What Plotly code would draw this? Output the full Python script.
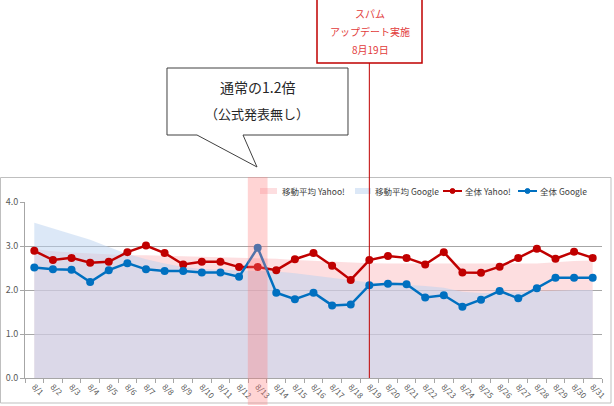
import plotly.graph_objects as go

# ---- data ----
days = [f"8/{d}" for d in range(1, 32)]
yahoo_all = [2.89, 2.68, 2.73, 2.62, 2.64, 2.86, 3.01, 2.84, 2.58, 2.64, 2.64, 2.52, 2.52, 2.45, 2.70,
             2.84, 2.55, 2.23, 2.68, 2.77, 2.73, 2.58, 2.86, 2.40, 2.39, 2.53, 2.73, 2.94, 2.71, 2.87, 2.73]
google_all = [2.51, 2.47, 2.46, 2.18, 2.45, 2.61, 2.47, 2.43, 2.43, 2.40, 2.40, 2.30, 2.96, 1.94, 1.79,
              1.94, 1.65, 1.67, 2.11, 2.14, 2.13, 1.83, 1.88, 1.62, 1.78, 1.98, 1.81, 2.04, 2.28, 2.28, 2.28]
yahoo_ma = [2.93, 2.88, 2.85, 2.83, 2.81, 2.79, 2.79, 2.78, 2.77, 2.76, 2.75, 2.74, 2.73, 2.71, 2.68,
            2.66, 2.64, 2.63, 2.61, 2.60, 2.60, 2.60, 2.60, 2.60, 2.59, 2.59, 2.59, 2.60, 2.63, 2.66, 2.67]
google_ma = [3.53, 3.40, 3.27, 3.14, 2.98, 2.82, 2.70, 2.60, 2.52, 2.48, 2.46, 2.45, 2.44, 2.42, 2.38,
             2.33, 2.28, 2.23, 2.17, 2.14, 2.12, 2.09, 2.05, 1.96, 1.93, 1.93, 1.95, 1.97, 1.98, 2.00, 2.00]
y_ticks = [0, 1, 2, 3, 4]
highlight_day = "8/13"
update_day = "8/19"

names = ["移動平均 Yahoo!", "移動平均 Google", "全体 Yahoo!", "全体 Google"]
colors_fill = ["rgba(251,189,193,0.5)", "rgba(185,209,239,0.5)"]
colors_line = ["#c00000", "#0070c0"]

W, H = 614, 406
ML, MR, MT, MB = 25, 12, 202, 28
PW, PH = W - ML - MR, H - MT - MB


def PX(px):
    return (px - ML) / PW


def PY(py):
    return (H - MB - py) / PH


FONT = "Noto Sans CJK JP, Noto Sans, sans-serif"

fig = go.Figure()
fig.add_trace(go.Scatter(x=days, y=yahoo_ma, name=names[0], mode="lines", fill="tozeroy",
                         line=dict(width=0, color=colors_fill[0]), fillcolor=colors_fill[0]))
fig.add_trace(go.Scatter(x=days, y=google_ma, name=names[1], mode="lines", fill="tozeroy",
                         line=dict(width=0, color=colors_fill[1]), fillcolor=colors_fill[1]))
fig.add_trace(go.Scatter(x=days, y=yahoo_all, name=names[2], mode="lines+markers",
                         line=dict(width=2.5, color=colors_line[0]),
                         marker=dict(size=8, color=colors_line[0])))
fig.add_trace(go.Scatter(x=days, y=google_all, name=names[3], mode="lines+markers",
                         line=dict(width=2.5, color=colors_line[1]),
                         marker=dict(size=8, color=colors_line[1])))

hi = days.index(highlight_day)
up = days.index(update_day)

shapes = [
    # outer chart frame
    dict(type="rect", xref="paper", yref="paper", x0=PX(0.5), x1=PX(611), y0=PY(403), y1=PY(177.5),
         line=dict(color="#bfbfbf", width=1), fillcolor="rgba(0,0,0,0)", layer="below"),
]

annotations = []

# ---- legend (drawn manually to match the compact Excel legend) ----
LY = 191
leg = [  # (symbol start px, symbol end px, text start px)
    (260, 277, 280),
    (355, 371, 373),
    (443, 462, 463),
    (518, 537, 538),
]
for i, (s0, s1, t0) in enumerate(leg):
    if i < 2:
        shapes.append(dict(type="rect", xref="paper", yref="paper", x0=PX(s0), x1=PX(s1),
                           y0=PY(LY + 3), y1=PY(LY - 3), line=dict(width=0),
                           fillcolor=colors_fill[i], layer="above"))
    else:
        c = colors_line[i - 2]
        shapes.append(dict(type="line", xref="paper", yref="paper", x0=PX(s0), x1=PX(s1),
                           y0=PY(LY), y1=PY(LY), line=dict(color=c, width=2), layer="above"))
        m = (s0 + s1) / 2
        shapes.append(dict(type="circle", xref="paper", yref="paper", x0=PX(m - 2.5), x1=PX(m + 2.5),
                           y0=PY(LY + 2.5), y1=PY(LY - 2.5), line=dict(color=c, width=1),
                           fillcolor=c, layer="above"))
    annotations.append(dict(text=names[i], xref="paper", yref="paper", x=PX(t0), y=PY(LY),
                            xanchor="left", yanchor="middle", showarrow=False,
                            font=dict(size=8.5, color="#404040", family=FONT)))

shapes += [
    # highlight band
    dict(type="rect", xref="x", yref="paper", x0=hi - 0.53, x1=hi + 0.53, y0=PY(405), y1=PY(177),
         line=dict(width=0), fillcolor="rgba(255,120,120,0.32)", layer="above"),
    # update line
    dict(type="line", xref="x", yref="paper", x0=up, x1=up, y0=0, y1=PY(63),
         line=dict(color="#c00000", width=1), layer="above"),
    # update box
    dict(type="rect", xref="paper", yref="paper", x0=PX(317), x1=PX(422), y0=PY(63), y1=PY(-5),
         line=dict(color="#c00000", width=1.5), fillcolor="white", layer="above"),
]

pts = [(167, 68), (348, 68), (348, 135), (243, 135), (257, 167), (197, 135), (167, 135)]
path = "M " + " L ".join(f"{PX(a):.5f},{PY(b):.5f}" for a, b in pts) + " Z"
shapes.append(dict(type="path", xref="paper", yref="paper", path=path,
                   line=dict(color="#404040", width=1), fillcolor="white", layer="above"))

for txt, py in [("スパム", 13), ("アップデート実施", 31), ("8月19日", 49)]:
    annotations.append(dict(text=txt, xref="paper", yref="paper", x=PX(370), y=PY(py),
                            xanchor="center", yanchor="middle", showarrow=False,
                            font=dict(size=10, color="#e23b3b", family=FONT)))
for txt, py, sz in [("通常の1.2倍", 87, 14), ("（公式発表無し）", 113, 13)]:
    annotations.append(dict(text=txt, xref="paper", yref="paper", x=PX(257), y=PY(py),
                            xanchor="center", yanchor="middle", showarrow=False,
                            font=dict(size=sz, color="#262626", family=FONT)))

fig.update_layout(
    width=W, height=H,
    margin=dict(l=ML, r=MR, t=MT, b=MB, pad=0, autoexpand=False),
    paper_bgcolor="white", plot_bgcolor="white",
    font=dict(family=FONT, color="#595959"),
    showlegend=False,
    shapes=shapes,
    annotations=annotations,
)
fig.update_xaxes(type="category", range=[-0.5, len(days) - 0.5], autorange=False,
                 tickangle=45, tickfont=dict(size=8, color="#595959"),
                 showgrid=False, showline=True, linecolor="#a6a6a6", linewidth=1,
                 ticks="outside", tickson="boundaries", ticklen=4, tickcolor="#a6a6a6",
                 zeroline=False, fixedrange=True, automargin=False)
fig.update_yaxes(range=[0, 4], tickvals=y_ticks, tickformat=".1f",
                 tickfont=dict(size=9, color="#595959"),
                 showgrid=True, gridcolor="#a6a6a6", gridwidth=1,
                 showline=True, linecolor="#a6a6a6", linewidth=1,
                 ticks="outside", ticklen=4, tickcolor="#a6a6a6",
                 zeroline=False, fixedrange=True, automargin=False)

fig.write_html("out.html", config={"displayModeBar": False},
               post_script="document.body.style.margin='0px';document.body.style.overflow='hidden';")
